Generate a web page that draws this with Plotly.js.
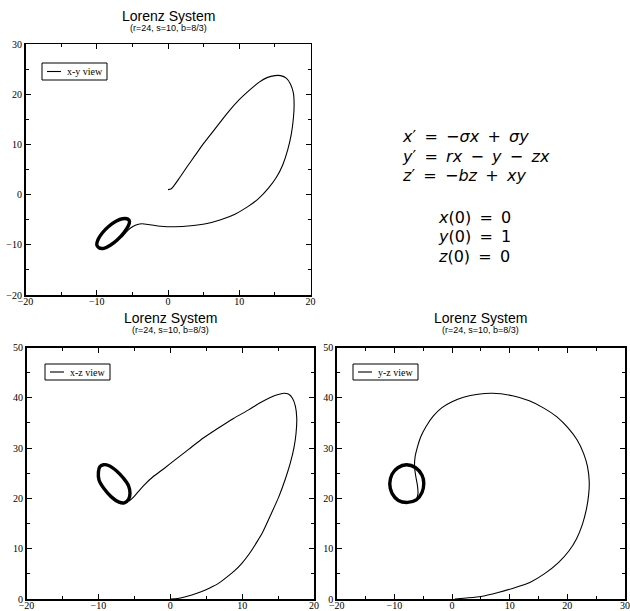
<!DOCTYPE html>
<html>
<head>
<meta charset="utf-8">
<script src="https://cdn.plot.ly/plotly-3.0.1.min.js"></script>
<style>
  html, body { margin: 0; padding: 0; background: #fff; }
  #chart { width: 630px; height: 611px; }
</style>
</head>
<body>
<div id="chart"></div>
<script>
// -------------------- DATA --------------------
// x-y view: path from the start point to the ring
const xyX = [0.0, 0.4, 0.8, 1.6, 2.7, 3.8, 5.0, 6.6, 8.3, 10.0, 11.6, 12.8, 13.9, 15.0, 15.8, 16.6, 17.2, 17.6, 17.7, 17.6, 17.3, 16.8, 16.1, 15.2, 14.1, 12.7, 11.2, 9.4, 7.4, 5.3, 3.2, 1.0, -1.0, -2.5, -3.7, -4.6, -5.3, -5.9, -6.5];
const xyY = [1.0, 1.1, 1.7, 3.3, 5.6, 7.8, 10.2, 13.1, 16.2, 18.9, 21.0, 22.4, 23.3, 23.7, 23.7, 23.2, 22.0, 20.2, 18.0, 15.2, 12.0, 8.9, 5.9, 3.4, 1.3, -0.8, -2.4, -3.9, -5.0, -5.8, -6.2, -6.4, -6.3, -6.0, -5.8, -6.1, -6.7, -7.5, -8.5];
// x-y view: the ring the path settles into
const xyRingX = [-5.6, -6.4, -7.3, -8.3, -9.2, -9.8, -10.0, -9.7, -9.0, -8.1, -7.1, -6.2, -5.6, -5.4, -5.6];
const xyRingY = [-4.9, -4.8, -5.3, -6.3, -7.6, -8.9, -10.0, -10.6, -10.7, -10.1, -9.0, -7.6, -6.3, -5.4, -4.9];

// x-z view
const xzX = [0.0, 1.0, 2.0, 3.0, 4.2, 5.5, 6.7, 8.0, 9.0, 9.9, 11.0, 12.0, 12.8, 14.0, 15.1, 16.0, 16.7, 17.2, 17.5, 17.6, 17.4, 17.0, 16.5, 15.8, 14.9, 14.0, 12.5, 10.9, 8.8, 6.7, 4.6, 2.6, 0.8, -0.9, -2.4, -3.6, -4.6, -5.3, -5.8];
const xzZ = [0.0, 0.1, 0.4, 0.8, 1.4, 2.2, 3.1, 4.5, 5.7, 7.0, 9.0, 11.2, 13.1, 16.8, 20.3, 23.8, 27.0, 30.0, 32.9, 36.0, 38.4, 39.9, 40.7, 40.9, 40.6, 40.1, 39.0, 37.6, 35.9, 34.0, 32.0, 29.8, 27.8, 25.9, 24.3, 22.7, 21.1, 20.0, 19.4];
const xzRingX = [-9.3, -8.5, -7.5, -6.5, -5.8, -5.6, -5.8, -6.4, -7.2, -8.2, -9.2, -9.9, -10.0, -9.8, -9.3];
const xzRingZ = [26.7, 26.5, 25.5, 24.0, 22.5, 21.0, 19.8, 19.1, 19.3, 20.3, 21.9, 23.6, 25.2, 26.3, 26.7];

// y-z view
const yzY = [0.5, 2.5, 5.0, 8.0, 11.0, 13.5, 16.0, 18.5, 20.3, 21.6, 22.6, 23.3, 23.7, 23.8, 23.5, 22.8, 21.7, 20.2, 18.2, 16.0, 13.4, 10.5, 7.0, 4.5, 2.0, 0.0, -1.8, -3.3, -4.5, -5.4, -6.0, -6.4, -6.5, -6.3, -6.0, -5.9, -6.1];
const yzZ = [0.0, 0.2, 0.5, 1.3, 2.3, 3.3, 5.0, 7.3, 9.6, 12.0, 14.8, 17.8, 20.8, 23.3, 26.3, 29.0, 31.6, 33.9, 36.2, 37.9, 39.4, 40.4, 40.9, 40.7, 40.1, 39.2, 38.0, 36.3, 34.3, 32.3, 30.2, 28.3, 26.3, 24.5, 22.6, 21.0, 19.9];
const yzRingY = [-7.9, -6.3, -5.2, -4.9, -5.2, -6.2, -7.7, -9.3, -10.4, -10.8, -10.4, -9.4, -7.9];
const yzRingZ = [26.7, 26.1, 24.6, 23.0, 21.2, 19.7, 19.2, 19.6, 21.0, 22.9, 24.8, 26.1, 26.7];

const legendNames = ["x-y view", "x-z view", "y-z view"];
const plotTitle = "Lorenz System";
const plotSubtitle = "(r=24, s=10, b=8/3)";
const TS = "\u2009"; // thin space, widens math operators a bit
const equations = [
    "<i>x</i>′ " + TS + "=" + TS + " −<i>σx</i> " + TS + "+" + TS + " <i>σy</i>",
    "<i>y</i>′ " + TS + "=" + TS + " <i>rx</i> " + TS + "−" + TS + " <i>y</i> " + TS + "−" + TS + " <i>zx</i>",
    "<i>z</i>′ " + TS + "=" + TS + " −<i>bz</i> " + TS + "+" + TS + " <i>xy</i>"
];
const initialValues = [
    "<i>x</i>(0) " + TS + "=" + TS + " 0",
    "<i>y</i>(0) " + TS + "=" + TS + " 1",
    "<i>z</i>(0) " + TS + "=" + TS + " 0"
];

// -------------------- HELPERS --------------------
const W = 630, H = 611;
const px = v => v / W;          // pixel -> paper x
const py = v => 1 - v / H;      // pixel -> paper y

const serif = "Liberation Serif, Times New Roman, serif";
const tickFont = { family: serif, size: 10, color: "#000" };

function axisStyle(range, domain, anchor, standoff) {
    return {
        range: range,
        domain: domain,
        anchor: anchor,
        tick0: 0,
        dtick: 10,
        ticks: "inside",
        ticklen: 5,
        tickwidth: 1,
        tickcolor: "#000",
        minor: { dtick: 5, tick0: 0, ticks: "inside", ticklen: 3, tickwidth: 1, tickcolor: "#000", showgrid: false },
        showline: true,
        linecolor: "#000",
        linewidth: 1.5,
        mirror: "ticks",
        showgrid: false,
        zeroline: false,
        tickfont: tickFont,
        ticklabelstandoff: standoff,
        fixedrange: true
    };
}

function pathTrace(x, y, xa, ya, name) {
    return {
        x: x, y: y, xaxis: xa, yaxis: ya,
        type: "scatter", mode: "lines", name: name,
        line: { color: "#000", width: 1.1, shape: "spline", smoothing: 0.6 },
        showlegend: false
    };
}

function ringTrace(x, y, xa, ya) {
    return {
        x: x, y: y, xaxis: xa, yaxis: ya,
        type: "scatter", mode: "lines",
        line: { color: "#000", width: 3.4, shape: "spline", smoothing: 1 },
        showlegend: false, hoverinfo: "skip"
    };
}

function textAt(text, x, y, size, anchor, family) {
    return {
        text: text, x: px(x), y: py(y), xref: "paper", yref: "paper",
        xanchor: anchor, yanchor: "middle", showarrow: false,
        font: { family: family || "Liberation Sans, Arial, sans-serif", size: size, color: "#000" }
    };
}

// small boxed legend, drawn in pixel positions (left, top, right, bottom)
const shapes = [];
const annotations = [];
function legendBox(name, l, t, r, b) {
    shapes.push({ type: "rect", xref: "paper", yref: "paper",
        x0: px(l), x1: px(r), y0: py(b), y1: py(t),
        line: { color: "#000", width: 1 }, fillcolor: "#fff" });
    const mid = (t + b) / 2;
    shapes.push({ type: "line", xref: "paper", yref: "paper",
        x0: px(l + 5), x1: px(l + 19), y0: py(mid), y1: py(mid),
        line: { color: "#000", width: 1.1 } });
    annotations.push(textAt(name, l + 23, mid, 10, "left", serif));
}

// -------------------- PLOT --------------------
const traces = [
    pathTrace(xyX, xyY, "x", "y", legendNames[0]),
    ringTrace(xyRingX, xyRingY, "x", "y"),
    pathTrace(xzX, xzZ, "x2", "y2", legendNames[1]),
    ringTrace(xzRingX, xzRingZ, "x2", "y2"),
    pathTrace(yzY, yzZ, "x3", "y3", legendNames[2]),
    ringTrace(yzRingY, yzRingZ, "x3", "y3")
];

legendBox(legendNames[0], 42, 63, 107, 80);
legendBox(legendNames[1], 45, 364, 110, 380);
legendBox(legendNames[2], 353, 364, 418, 380);

annotations.push(
    textAt(plotTitle, 168, 16, 14, "center"),
    textAt(plotSubtitle, 168, 28, 9, "center"),
    textAt(plotTitle, 170, 318, 14, "center"),
    textAt(plotSubtitle, 170, 330, 9, "center"),
    textAt(plotTitle, 481, 318, 14, "center"),
    textAt(plotSubtitle, 481, 330, 9, "center")
);
equations.forEach((t, i) => annotations.push(textAt(t, 400, 137 + i * 19.5, 16, "left", "DejaVu Sans, sans-serif")));
initialValues.forEach((t, i) => annotations.push(textAt(t, 436, 217 + i * 19.5, 16, "left", "DejaVu Sans, sans-serif")));

const layout = {
    width: W,
    height: H,
    margin: { l: 0, r: 0, t: 0, b: 0 },
    paper_bgcolor: "#fff",
    plot_bgcolor: "#fff",
    showlegend: false,
    xaxis: axisStyle([-20, 20], [px(25.5), px(310.5)], "y", -4),
    yaxis: axisStyle([-20, 30], [py(295), py(44)], "x", 0),
    xaxis2: axisStyle([-20, 20], [px(26.5), px(314)], "y2", -4),
    yaxis2: axisStyle([0, 50], [py(599), py(347.5)], "x2", 0),
    xaxis3: axisStyle([-20, 30], [px(336.7), px(625)], "y3", -4),
    yaxis3: axisStyle([0, 50], [py(599), py(347.5)], "x3", 0),
    shapes: shapes,
    annotations: annotations
};

Plotly.newPlot("chart", traces, layout, { staticPlot: true });
</script>
</body>
</html>
